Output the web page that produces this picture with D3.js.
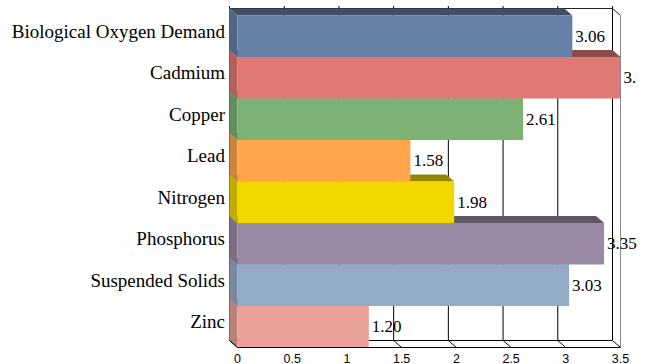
<!DOCTYPE html>
<html>
<head>
<meta charset="utf-8">
<script src="https://cdn.jsdelivr.net/npm/d3@7"></script>
<style>
  html, body { margin: 0; padding: 0; background: #fff; }
  svg { display: block; }
</style>
</head>
<body>
<svg id="chart" width="649" height="364"></svg>
<script>
// Pollutant load indices, one bar per pollutant
const categories = [
  "Biological Oxygen Demand", "Cadmium", "Copper", "Lead",
  "Nitrogen", "Phosphorus", "Suspended Solids", "Zinc"
];
const values = [3.06, 3.52, 2.61, 1.58, 1.98, 3.35, 3.03, 1.20];
const barColors = [
  "#6680a8", "#e07874", "#7cb274", "#ffa54b",
  "#f0d800", "#9b8aa4", "#94abc8", "#e8a098"
];
const xTicks = [0, 0.5, 1, 1.5, 2, 2.5, 3, 3.5];
const xTickLabels = ["0", "0.5", "1", "1.5", "2", "2.5", "3", "3.5"];

const svg = d3.select("#chart");

// 3D box: back wall plus a depth offset toward the lower right
const depthX = 8, depthY = 7;
const domainMax = 3.5;
const xBack = d3.scaleLinear().domain([0, domainMax]).range([229.5, 612.5]);
const xFront = v => xBack(v) + depthX;
const yBack = d3.scaleBand().domain(categories).range([8.5, 340.5]).paddingInner(0).paddingOuter(0);
const yFront = c => yBack(c) + depthY;
const bw = yBack.bandwidth();
const clampV = v => Math.max(0, Math.min(domainMax, v));

const backTop = yBack.range()[0], backBottom = yBack.range()[1];
const frontBottom = backBottom + depthY;

const gBack = svg.append("g");

// back wall gridlines and floor diagonals
xTicks.forEach((t, i) => {
  const bx = xBack(t);
  gBack.append("line")
    .attr("x1", bx).attr("x2", bx).attr("y1", backTop).attr("y2", backBottom)
    .attr("stroke", i === 0 ? "#555" : "#000").attr("stroke-width", 1);
  gBack.append("line")
    .attr("x1", bx).attr("x2", bx).attr("y1", backTop - 2.5).attr("y2", backTop)
    .attr("stroke", "#000").attr("stroke-width", 1);
  gBack.append("line")
    .attr("x1", bx).attr("y1", backBottom).attr("x2", xFront(t)).attr("y2", frontBottom)
    .attr("stroke", "#000").attr("stroke-width", 1);
});
// back wall top and bottom edges
gBack.append("line")
  .attr("x1", xBack(0)).attr("x2", xBack(domainMax)).attr("y1", backTop).attr("y2", backTop)
  .attr("stroke", "#222");
gBack.append("line")
  .attr("x1", xBack(0)).attr("x2", xBack(domainMax)).attr("y1", backBottom).attr("y2", backBottom)
  .attr("stroke", "#000");
// top right depth edge
gBack.append("line")
  .attr("x1", xBack(domainMax)).attr("y1", backTop)
  .attr("x2", xFront(domainMax)).attr("y2", backTop + depthY)
  .attr("stroke", "#222");

// bars: drawn bottom-up so each front face covers the top face below it
const gBars = svg.append("g");
const shade = (c, f) => {
  const r = d3.rgb(c);
  return d3.rgb(r.r * f, r.g * f, r.b * f).formatHex();
};
const order = d3.range(categories.length).reverse();
order.forEach(i => {
  const c = categories[i];
  const v = clampV(values[i]);
  const by0 = yBack(c), by1 = by0 + bw;
  const fy0 = yFront(c), fy1 = fy0 + bw;
  const bx0 = xBack(0), bxv = xBack(v);
  const fx0 = xFront(0), fxv = xFront(v);
  const g = gBars.append("g");
  // top face
  g.append("path")
    .attr("d", `M${bx0},${by0}L${bxv},${by0}L${fxv},${fy0}L${fx0},${fy0}Z`)
    .attr("fill", shade(barColors[i], 0.62));
  // left side face
  g.append("path")
    .attr("d", `M${bx0},${by0}L${fx0},${fy0}L${fx0},${fy1}L${bx0},${by1}Z`)
    .attr("fill", shade(barColors[i], 0.8));
  // front face
  g.append("rect")
    .attr("x", fx0).attr("y", fy0)
    .attr("width", fxv - fx0).attr("height", bw)
    .attr("fill", barColors[i]);
});

// front frame edges
const gFront = svg.append("g");
gFront.append("line")
  .attr("x1", xFront(0)).attr("x2", xFront(domainMax)).attr("y1", frontBottom).attr("y2", frontBottom)
  .attr("stroke", "#000");
gFront.append("line")
  .attr("x1", xFront(domainMax)).attr("x2", xFront(domainMax)).attr("y1", backTop + depthY).attr("y2", frontBottom)
  .attr("stroke", "#888");
gFront.append("line")
  .attr("x1", xBack(0)).attr("y1", backBottom).attr("x2", xFront(0)).attr("y2", frontBottom)
  .attr("stroke", "#000");

// x tick labels along the front edge
svg.append("g").selectAll("text")
  .data(xTicks)
  .join("text")
  .attr("x", d => xFront(d))
  .attr("y", 362.5)
  .attr("text-anchor", "middle")
  .attr("font-family", "'Liberation Sans', Arial, sans-serif")
  .attr("font-size", 12.5)
  .attr("fill", "#000")
  .text((d, i) => xTickLabels[i]);

// category labels
svg.append("g").selectAll("text")
  .data(categories)
  .join("text")
  .attr("x", 225)
  .attr("y", d => yBack(d) + bw / 2 + 2)
  .attr("text-anchor", "end")
  .attr("dominant-baseline", "central")
  .attr("font-family", "'Liberation Serif', 'Times New Roman', serif")
  .attr("font-size", 19)
  .attr("fill", "#000")
  .text(d => d);

// value labels, clipped to the drawing area
svg.append("clipPath").attr("id", "labelClip")
  .append("rect").attr("x", 0).attr("y", 0).attr("width", 637).attr("height", 364);
const fmt = d3.format(".2f");
svg.append("g").attr("clip-path", "url(#labelClip)")
  .selectAll("text")
  .data(categories)
  .join("text")
  .attr("x", (d, i) => xFront(clampV(values[i])) + 3)
  .attr("y", d => yFront(d) + bw / 2)
  .attr("dominant-baseline", "central")
  .attr("font-family", "'Liberation Serif', 'Times New Roman', serif")
  .attr("font-size", 17)
  .attr("fill", "#000")
  .text((d, i) => fmt(values[i]));
</script>
</body>
</html>
